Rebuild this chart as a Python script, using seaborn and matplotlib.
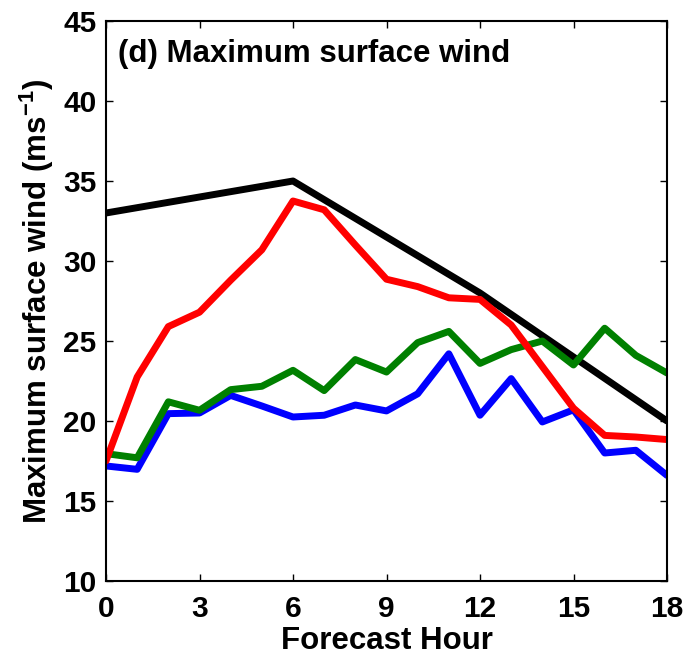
import numpy as np
import pandas as pd
import matplotlib
matplotlib.use("Agg")
import matplotlib.pyplot as plt
import seaborn as sns

# Data
best_hours = [0, 6, 12, 18]
best_track = [33.0, 35.0, 28.0, 20.0]
hours = list(range(19))
red = [17.5, 22.75, 25.9, 26.8, 28.8, 30.7, 33.75, 33.2, 31.0, 28.86, 28.4, 27.7, 27.6, 26.0, 23.4, 20.8, 19.1, 19.0, 18.84]
green = [17.96, 17.7, 21.2, 20.67, 21.96, 22.17, 23.17, 21.9, 23.84, 23.06, 24.9, 25.6, 23.6, 24.46, 25.0, 23.5, 25.8, 24.1, 23.0]
blue = [17.19, 16.98, 20.46, 20.5, 21.6, 20.94, 20.25, 20.36, 21.0, 20.63, 21.7, 24.2, 20.36, 22.65, 19.94, 20.7, 18.0, 18.17, 16.6]

title_text = "(d) Maximum surface wind"
xlabel = "Forecast Hour"
ylabel = "Maximum surface wind (ms$^{\\mathbf{-1}}$)"
xticks = [0, 3, 6, 9, 12, 15, 18]
yticks = [10, 15, 20, 25, 30, 35, 40, 45]

sns.set_theme(style="white")
plt.rcParams['font.family'] = ['Liberation Sans', 'DejaVu Sans']
plt.rcParams['mathtext.fontset'] = 'custom'
plt.rcParams['mathtext.rm'] = 'Liberation Sans:bold'
plt.rcParams['mathtext.bf'] = 'Liberation Sans:bold'
plt.rcParams['mathtext.default'] = 'bf'
plt.rcParams['text.color'] = 'black'
plt.rcParams['axes.labelcolor'] = 'black'
plt.rcParams['xtick.color'] = 'black'
plt.rcParams['ytick.color'] = 'black'

fs = 21.5
fs_lab = 22.5
fig = plt.figure(figsize=(6.86, 6.61), dpi=100)
ax = fig.add_axes([106/686, 1 - 581/661, (667-106)/686, (581-21)/661])

lw = 5.0
df_best = pd.DataFrame({"hour": best_hours, "wind": best_track})
sns.lineplot(data=df_best, x="hour", y="wind", color="black", lw=lw, ax=ax)
for vals, col in [(blue, "#0000ff"), (green, "#008000"), (red, "#ff0000")]:
    d = pd.DataFrame({"hour": hours, "wind": vals})
    sns.lineplot(data=d, x="hour", y="wind", color=col, lw=lw, ax=ax)

ax.set_xlim(0, 18)
ax.set_ylim(10, 45)
ax.set_xticks(xticks)
ax.set_yticks(yticks)
ax.set_xticklabels([str(t) for t in xticks], fontsize=fs, fontweight="bold")
ax.set_yticklabels([str(t) for t in yticks], fontsize=fs, fontweight="bold")
ax.tick_params(direction="in", length=5, width=1, top=True, right=True,
               bottom=True, left=True, color="black")
ax.tick_params(axis="x", pad=10)
ax.tick_params(axis="y", pad=7)
for s in ax.spines.values():
    s.set_color("black")
    s.set_linewidth(1.5)
ax.set_xlabel(xlabel, fontsize=fs_lab, fontweight="bold", labelpad=2)
ax.set_ylabel(ylabel, fontsize=fs_lab, fontweight="bold", labelpad=5)
ax.text(12/561, 1 - 18/560, title_text, transform=ax.transAxes, fontsize=fs_lab,
        fontweight="bold", ha="left", va="top")

fig.savefig("out.png", dpi=100)
